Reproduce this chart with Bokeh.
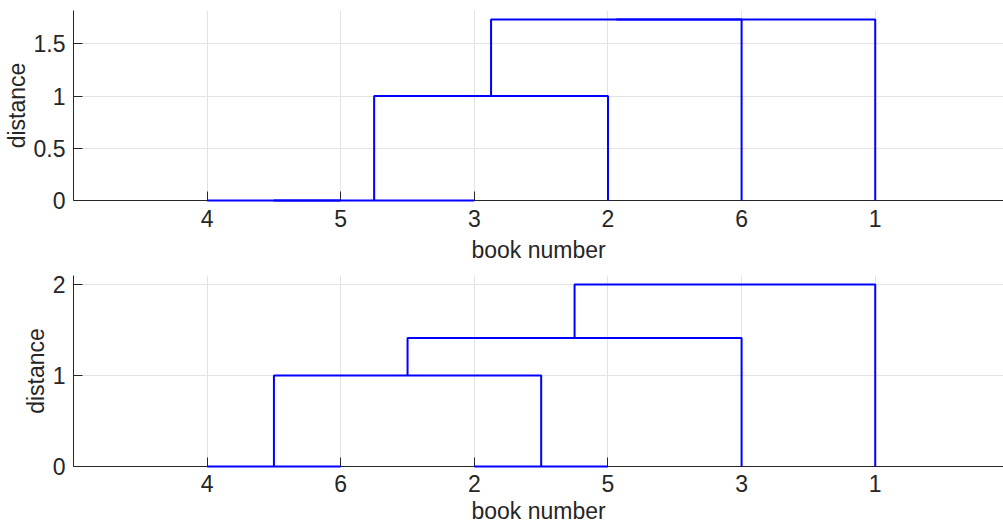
from bokeh.plotting import figure
from bokeh.layouts import column
from bokeh.models import Range1d, FixedTicker
from bokeh.embed import file_html
from bokeh.resources import INLINE

# ---- data ----
# leaf order along the x axis (book numbers)
leaves_top = [4, 5, 3, 2, 6, 1]
leaves_bottom = [4, 6, 2, 5, 3, 1]
# linkage rows: child a, child b, merge distance (clusters numbered 7, 8, ...)
link_a_top = [4, 7, 8, 9, 10]
link_b_top = [5, 3, 2, 6, 1]
link_h_top = [0.0, 0.0, 1.0, 1.732, 1.732]
link_a_bottom = [4, 2, 7, 9, 10]
link_b_bottom = [6, 5, 8, 3, 1]
link_h_bottom = [0.0, 0.0, 1.0, 1.414, 2.0]
yticks_top = [0, 0.5, 1, 1.5]
yticks_bottom = [0, 1, 2]

FONT = "Liberation Sans"
TXT = "#262626"


def dendro_lines(leaves, la, lb, lh):
    n = len(leaves)
    pos = {leaf: i + 1 for i, leaf in enumerate(leaves)}
    hgt = {leaf: 0.0 for leaf in leaves}
    xs, ys = [], []
    for k, (a, b, h) in enumerate(zip(la, lb, lh)):
        xa, xb = pos[a], pos[b]
        xs.append([xa, xa, xb, xb])
        ys.append([hgt[a], h, h, hgt[b]])
        cid = n + 1 + k
        pos[cid] = (xa + xb) / 2
        hgt[cid] = h
    return xs, ys


def make(leaves, la, lb, lh, yticks, height, btop, bbot, xstand, xlstand):
    ymax = max(lh) * 1.05
    p = figure(width=1003, height=height, output_backend="svg", toolbar_location=None,
               x_range=Range1d(0, 6.96), y_range=Range1d(0, ymax),
               min_border_left=73, min_border_right=0,
               min_border_top=btop, min_border_bottom=bbot)
    p.outline_line_color = None
    xs, ys = dendro_lines(leaves, la, lb, lh)
    r = p.multi_line(xs, ys, line_color="#0000ff", line_width=2)
    r.level = "overlay"

    p.xaxis.ticker = FixedTicker(ticks=list(range(1, len(leaves) + 1)))
    p.xaxis.major_label_overrides = {i + 1: str(l) for i, l in enumerate(leaves)}
    p.yaxis.ticker = FixedTicker(ticks=yticks)
    p.yaxis.major_label_overrides = {t: ("%g" % t) for t in yticks}
    p.xaxis.axis_label = "book number"
    p.yaxis.axis_label = "distance"
    for ax in (p.xaxis, p.yaxis):
        ax.major_tick_in = 9
        ax.major_tick_out = 0
        ax.minor_tick_line_color = None
        ax.axis_line_color = TXT
        ax.major_tick_line_color = TXT
        ax.major_label_text_font = FONT
        ax.major_label_text_font_size = "23px"
        ax.major_label_text_color = TXT
        ax.axis_label_text_font = FONT
        ax.axis_label_text_font_size = "23px"
        ax.axis_label_text_font_style = "normal"
        ax.axis_label_text_color = TXT
    p.xaxis.major_label_standoff = xstand
    p.xaxis.axis_label_standoff = xlstand
    p.yaxis.major_label_standoff = 8
    p.yaxis.axis_label_standoff = 1
    for g in (p.xgrid, p.ygrid):
        g.grid_line_color = "#e3e3e3"
        g.grid_line_width = 1
    return p


p1 = make(leaves_top, link_a_top, link_b_top, link_h_top, yticks_top, 265, 10, 65, 9, 7)
p2 = make(leaves_bottom, link_a_bottom, link_b_bottom, link_h_bottom, yticks_bottom, 262, 10, 61, 8, 3)

layout = column(p1, p2, spacing=0)
open("out.html", "w").write(file_html(layout, INLINE))
